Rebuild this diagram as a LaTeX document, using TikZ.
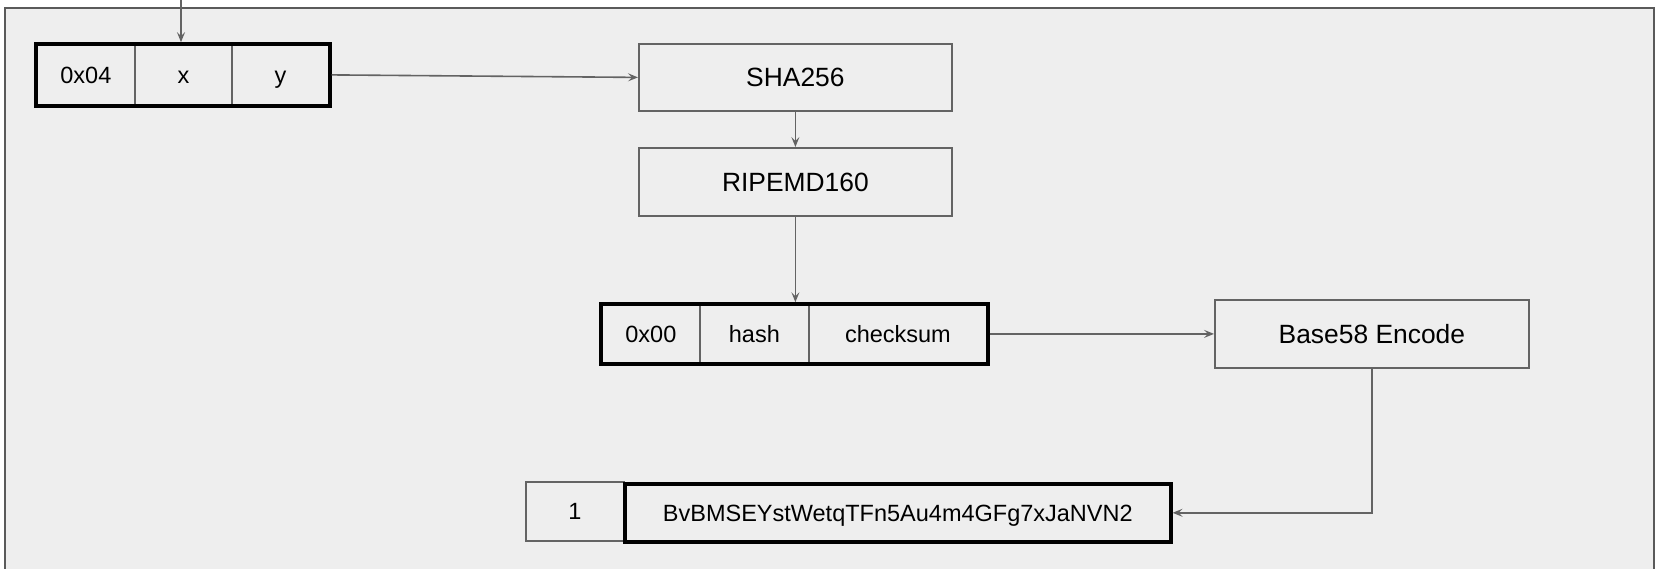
\documentclass[tikz,border=0pt]{standalone}
\usepackage{fontspec}
\setmainfont{Liberation Sans}
\usetikzlibrary{arrows.meta,fit}
\definecolor{bg}{HTML}{EEEEEE}
\definecolor{edge}{HTML}{636363}
\definecolor{framec}{HTML}{5A5A5A}
\tikzset{
 procbox/.style={draw=edge, line width=1.8pt, fill=bg, font=\fontsize{26.4pt}{30pt}\selectfont, inner sep=0pt, text height=24.3pt, text depth=5.3pt, anchor=north west},
 cell/.style={draw=edge, line width=1.8pt, font=\fontsize{23.5pt}{28pt}\selectfont, inner sep=0pt, text height=21.6pt, text depth=4.7pt, anchor=north west},
 tuple/.style={draw=black, line width=3.6pt, inner sep=0pt},
 conn/.style={draw=edge, line width=1.6pt, -{Stealth[length=10pt,width=8pt,inset=4pt]}},
}
\begin{document}
\begin{tikzpicture}[x=1pt,y=-1pt]
\useasboundingbox (0,0) rectangle (1655,568);
\clip (0,0) rectangle (1655,568);
\fill[white] (0,0) rectangle (1655,568);
\draw[framec, line width=2pt, fill=bg] (4.5,8) rectangle (1654,620);

% tuple 1
\node[cell, minimum width=98pt, minimum height=60pt] (a1) at (36,44) {0x04};
\node[cell, minimum width=97pt, minimum height=60pt] (a2) at (134,44) {x};
\node[cell, minimum width=97pt, minimum height=60pt] (a3) at (231,44) {y};
\node[tuple, fit=(a1)(a3)] (t1) {};

% process boxes
\node[procbox, minimum width=313pt, minimum height=67pt] (sha) at (638,43) {SHA256};
\node[procbox, minimum width=313pt, minimum height=68pt] (rip) at (638,147) {RIPEMD160};
\node[procbox, minimum width=314pt, minimum height=68pt] (b58) at (1214,299) {Base58 Encode};

% tuple 2
\node[cell, minimum width=98pt, minimum height=58pt] (b1) at (601,304) {0x00};
\node[cell, minimum width=109pt, minimum height=58pt] (b2) at (699,304) {hash};
\node[cell, minimum width=178pt, minimum height=58pt] (b3) at (808,304) {checksum};
\node[tuple, fit=(b1)(b3)] (t2) {};

% address
\node[cell, minimum width=98pt, minimum height=59pt] (one) at (525,481) {1};
\node[cell, draw=black, line width=3.6pt, minimum width=546pt, minimum height=58pt] (addr) at (623,482) {BvBMSEYstWetqTFn5Au4m4GFg7xJaNVN2};

% connectors
\coordinate (in) at (181,0);
\draw[conn] (in) -- (in |- t1.north);
\draw[conn] (t1.east) -- (sha.west);
\draw[conn] (sha.south) -- (rip.north);
\draw[conn] (rip.south) -- (rip.south |- t2.north);
\draw[conn] (t2.east) -- (b58.west);
\draw[conn] (b58.south) |- (addr.east);
\end{tikzpicture}
\end{document}
